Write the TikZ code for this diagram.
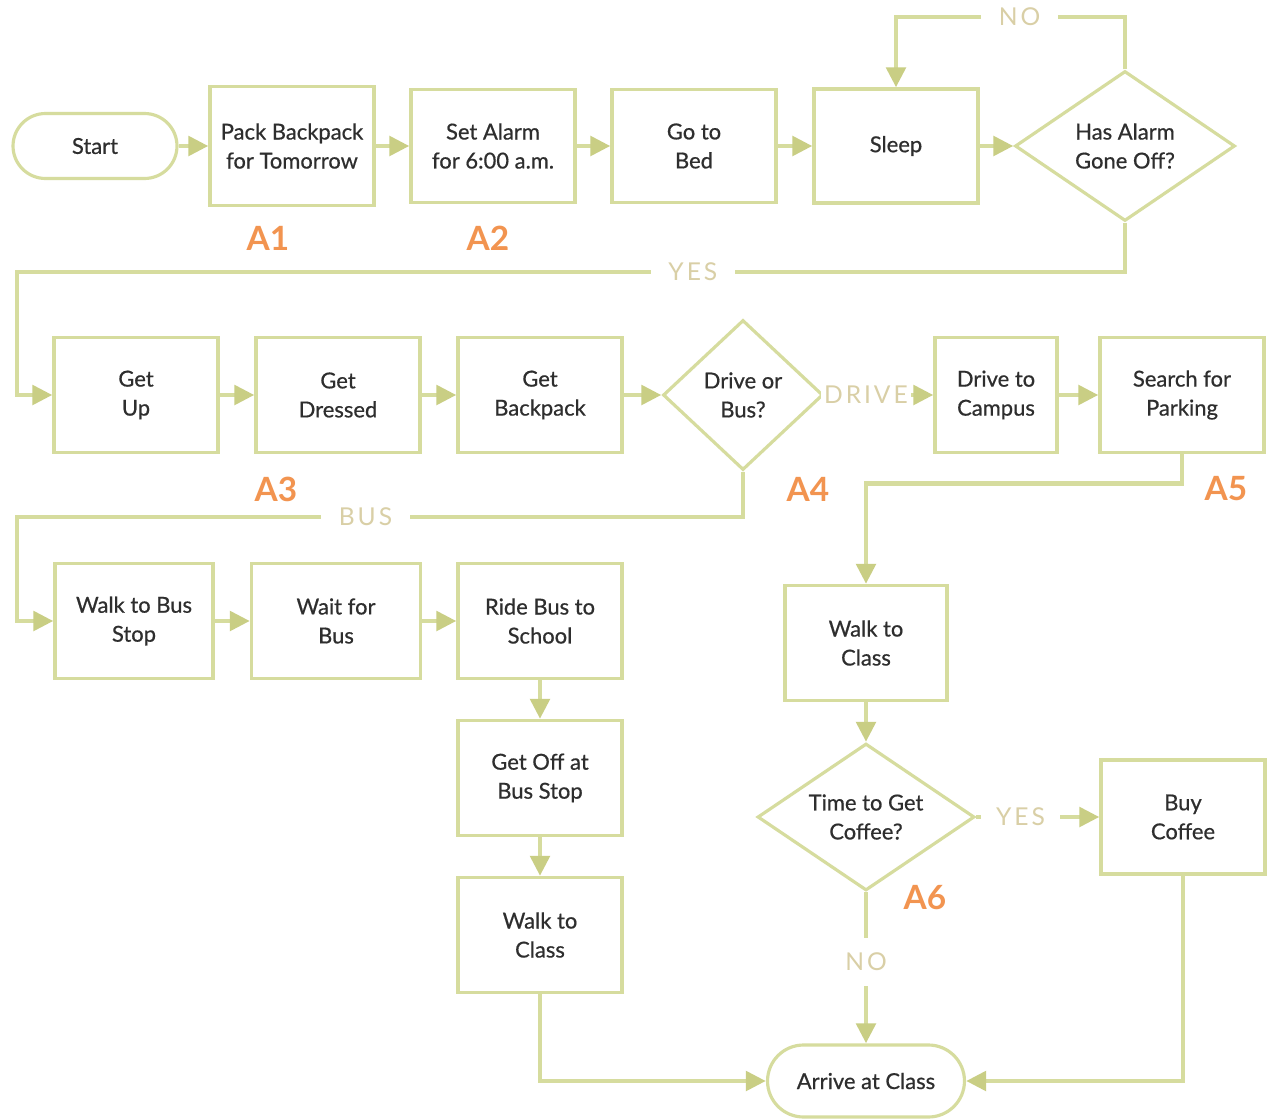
\documentclass[tikz,border=0pt]{standalone}
\usepackage{fontspec}
\setmainfont{Lato}
\usetikzlibrary{arrows.meta,shapes.geometric,calc}
\definecolor{flow}{HTML}{D6DC9E}
\definecolor{tipc}{HTML}{C9CE84}
\definecolor{tagc}{HTML}{F29450}
\definecolor{txt}{HTML}{2E2E2E}
\definecolor{yn}{HTML}{D9CFA6}
\begin{document}
\begin{tikzpicture}[x=0.02cm,y=-0.02cm,
  every node/.style={text=txt},
  nodefont/.style={font=\fontsize{12.5}{16.5}\selectfont\addfontfeature{FakeBold=0.6}},
  box/.style={draw=flow, line width=1.8pt, fill=white, align=center, inner sep=0pt,
    minimum width=3.28cm, minimum height=2.3cm, nodefont},
  term/.style={box, rounded corners=0.65cm, minimum height=1.3cm},
  decide/.style={draw=flow, line width=1.8pt, fill=white, diamond, aspect=1.47,
    align=center, inner sep=0pt, nodefont},
  conn/.style={draw=flow, line width=2.8pt,
    -{Triangle[length=0.4cm,width=0.38cm,color=tipc]}},
  lbl/.style={fill=white, text=yn, inner xsep=0.35cm, inner ysep=2pt,
    font=\fontsize{14}{14}\selectfont\addfontfeature{LetterSpace=12}},
  tag/.style={text=tagc, font=\fontsize{19}{19}\selectfont\bfseries}
]
\useasboundingbox[fill=white] (0,0) rectangle (1269,1119);

% --- evening chain ---
\node[term] (start) at (95,146) {Start};
\node[box, minimum height=2.38cm] (pack) at (292,146) {Pack Backpack\\for Tomorrow};
\node[box, minimum height=2.26cm] (alarm) at (493,146) {Set Alarm\\for 6:00 a.m.};
\node[box, minimum height=2.26cm] (bed) at (694,146) {Go to\\Bed};
\node[box, minimum height=2.28cm] (sleep) at (896,146) {Sleep};
\node[decide, minimum width=4.4cm, minimum height=3cm] (has) at (1125,146) {Has Alarm\\Gone Off?};

\node[tag] (a1) at (268,238) {A1};
\node[tag] (a2) at (488,238) {A2};

% --- morning chain ---
\node[box] (getup) at (136,395) {Get\\Up};
\node[box] (dressed) at (338,395) {Get\\Dressed};
\node[box] (getbp) at (540,395) {Get\\Backpack};
\node[decide, minimum width=3.2cm, minimum height=3cm] (dob) at (743,395) {Drive or\\Bus?};
\node[box, minimum width=2.44cm] (drive) at (996,395) {Drive to\\Campus};
\node[box] (park) at (1182,395) {Search for\\Parking};

\node[tag] (a3) at (276,489) {A3};
\node[tag] (a4) at (808,489) {A4};
\node[tag] (a5) at (1226,489) {A5};

% --- bus route ---
\node[box, minimum width=3.16cm] (walkbus) at (134,621) {Walk to Bus\\Stop};
\node[box, minimum width=3.38cm] (wait) at (336,621) {Wait for\\Bus};
\node[box] (ride) at (540,621) {Ride Bus to\\School};
\node[box] (getoff) at (540,778) {Get Off at\\Bus Stop};
\node[box] (walkA) at (540,935) {Walk to\\Class};

% --- drive route ---
\node[box, minimum width=3.24cm] (walkB) at (866,643) {Walk to\\Class};
\node[decide, minimum width=4.34cm, minimum height=2.94cm] (coffee) at (866,817) {Time to Get\\Coffee?};
\node[box, minimum height=2.28cm] (buy) at (1183,817) {Buy\\Coffee};
\node[tag] (a6) at (925,898) {A6};

\node[term, minimum width=3.94cm, minimum height=1.44cm, rounded corners=0.72cm] (arrive) at (866,1081) {Arrive at Class};

% bend points
\coordinate (noY) at (896,17);
\coordinate (yesY) at (17,272);
\coordinate (busY) at (17,517);

% --- connectors ---
\draw[conn] (start) -- (pack);
\draw[conn] (pack) -- (alarm);
\draw[conn] (alarm) -- (bed);
\draw[conn] (bed) -- (sleep);
\draw[conn] (sleep.east) -- (has.west);
\draw[conn] (has.north) |- node[lbl, pos=0.73] {NO} (noY) -- (sleep.north);
\draw[conn] (has.south) -- (has.south |- yesY) -- node[lbl, pos=0.39] {YES} (yesY) |- (getup.west);

\draw[conn] (getup) -- (dressed);
\draw[conn] (dressed) -- (getbp);
\draw[conn] (getbp.east) -- (dob.west);
\draw[conn] (dob.east) -- node[lbl, pos=0.38, inner xsep=2pt] {DRIVE} (drive.west);
\draw[conn] (drive) -- (park);
\draw[conn] (park.south) -- ++(0,29) -| (walkB.north);

\draw[conn] (dob.south) |- node[lbl, pos=0.76] {BUS} (busY) |- (walkbus.west);
\draw[conn] (walkbus) -- (wait);
\draw[conn] (wait) -- (ride);
\draw[conn] (ride) -- (getoff);
\draw[conn] (getoff) -- (walkA);
\draw[conn] (walkA.south) |- (arrive.west);

\draw[conn] (walkB) -- (coffee.north);
\draw[conn] (coffee.east) -- node[lbl, pos=0.36, inner xsep=0.3cm] {YES} (buy.west);
\draw[conn] (coffee.south) -- node[lbl, pos=0.46, inner xsep=2pt, inner ysep=0.3cm] {NO} (arrive.north);
\draw[conn] (buy.south) |- (arrive.east);
\end{tikzpicture}
\end{document}
